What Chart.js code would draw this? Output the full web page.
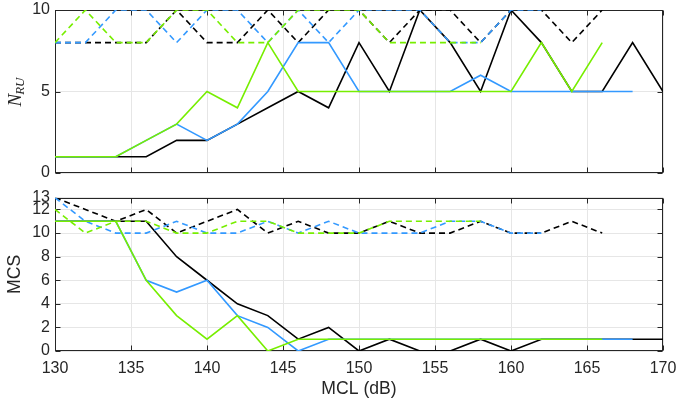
<!DOCTYPE html>
<html>
<head>
<meta charset="utf-8">
<script src="https://cdn.jsdelivr.net/npm/chart.js@4.4.0/dist/chart.umd.min.js"></script>
<style>
  html, body { margin: 0; padding: 0; background: #fff; }
  #wrap { position: relative; width: 678px; height: 401px; }
  #nru { position: absolute; left: 0; top: 0; }
  #mcs { position: absolute; left: 0; top: 185px; }
</style>
</head>
<body>
<div id="wrap">
  <canvas id="nru" width="678" height="185"></canvas>
  <canvas id="mcs" width="678" height="216"></canvas>
</div>
<script>
// MCL sweep (dB), one sample every 2 dB
const mcl = [130, 132, 134, 136, 138, 140, 142, 144, 146, 148, 150,
             152, 154, 156, 158, 160, 162, 164, 166, 168, 170];

// number of RUs
const nruBlack     = [1, 1, 1, 1, 2, 2, 3, 4, 5, 4, 8, 5, 10, 8, 5, 10, 8, 5, 5, 8, 5];
const nruBlue      = [1, 1, 1, 2, 3, 2, 3, 5, 8, 8, 5, 5, 5, 5, 6, 5, 5, 5, 5, 5];
const nruGreen     = [1, 1, 1, 2, 3, 5, 4, 8, 5, 5, 5, 5, 5, 5, 5, 5, 8, 5, 8];
const nruBlackDash = [8, 8, 8, 8, 10, 8, 8, 10, 8, 10, 10, 8, 10, 10, 8, 10, 10, 8, 10];
const nruBlueDash  = [8, 8, 10, 10, 8, 10, 10, 8, 10, 8, 10, 10, 10, 8, 8, 10, 10];
const nruGreenDash = [8, 10, 8, 8, 10, 10, 8, 8, 10, 10, 10, 8, 8, 8, 8];

// MCS index
const mcsBlack     = [11, 11, 11, 11, 8, 6, 4, 3, 1, 2, 0, 1, 0, 0, 1, 0, 1, 1, 1, 1, 1];
const mcsBlue      = [11, 11, 11, 6, 5, 6, 3, 2, 0, 1, 1, 1, 1, 1, 1, 1, 1, 1, 1, 1];
const mcsGreen     = [11, 11, 11, 6, 3, 1, 3, 0, 1, 1, 1, 1, 1, 1, 1, 1, 1, 1, 1];
const mcsBlackDash = [13, 12, 11, 12, 10, 11, 12, 10, 11, 10, 10, 11, 10, 10, 11, 10, 10, 11, 10];
const mcsBlueDash  = [13, 11, 10, 10, 11, 10, 10, 11, 10, 11, 10, 10, 10, 11, 11, 10, 10];
const mcsGreenDash = [12, 10, 11, 11, 10, 10, 11, 11, 10, 10, 10, 11, 11, 11, 11];

// tick labels
const xTicks = [130, 135, 140, 145, 150, 155, 160, 165, 170];
const nruTicks = [0, 5, 10];
const mcsTicks = [0, 2, 4, 6, 8, 10, 12, 13];

const BLACK = '#000000';
const BLUE = '#3399ff';
const GREEN = '#77ee00';
const AXIS = '#262626';
const GRID = '#e6e6e6';
const FONT = 'Liberation Sans, Arial, sans-serif';

function series(vals, color, dashed, order) {
  return {
    data: vals.map((v, i) => ({ x: mcl[i], y: v })),
    borderColor: color,
    backgroundColor: color,
    borderWidth: 1.6,
    borderDash: dashed ? [6, 4] : [],
    pointRadius: 0,
    tension: 0,
    fill: false,
    order: order
  };
}

// no extra room around the plot for half-height tick labels
function noPad(s) {
  s.paddingTop = 0;
  s.paddingBottom = 0;
  s.paddingLeft = 0;
  s.paddingRight = 0;
}

function xScale(withLabels) {
  return {
    type: 'linear',
    min: 130,
    max: 170,
    afterBuildTicks: s => { s.ticks = xTicks.map(v => ({ value: v })); },
    afterFit: s => { s.height = withLabels ? 50 : 12; noPad(s); },
    grid: { color: GRID, drawTicks: false },
    border: { display: false },
    ticks: {
      display: withLabels,
      padding: 8,
      color: AXIS,
      autoSkip: false,
      maxRotation: 0,
      font: { family: FONT, size: 16 }
    },
    title: {
      display: withLabels,
      text: 'MCL (dB)',
      color: AXIS,
      font: { family: FONT, size: 17.6 },
      padding: { top: 0, bottom: 1 }
    }
  };
}

function yScale(max, ticks, titleText) {
  return {
    min: 0,
    max: max,
    afterBuildTicks: s => { s.ticks = ticks.map(v => ({ value: v })); },
    afterFit: s => { s.width = 55; noPad(s); },
    grid: { color: GRID, drawTicks: false },
    border: { display: false },
    ticks: {
      padding: 5,
      color: AXIS,
      autoSkip: false,
      font: { family: FONT, size: 16 }
    },
    title: {
      display: !!titleText,
      text: titleText || '',
      color: AXIS,
      font: { family: FONT, size: 17.6 },
      padding: { top: 5, bottom: 0 }
    }
  };
}

// axes box with inward tick marks on all four sides
const boxPlugin = {
  id: 'box',
  beforeDatasetsDraw(chart) {
    const { ctx, chartArea: a, scales } = chart;
    const L = Math.round(a.left) + 0.5, R = Math.round(a.right) - 0.5;
    const T = Math.round(a.top) + 0.5, B = Math.round(a.bottom) - 0.5;
    ctx.save();
    ctx.strokeStyle = AXIS;
    ctx.lineWidth = 1;
    ctx.beginPath();
    scales.x.ticks.forEach(t => {
      const px = Math.round(scales.x.getPixelForValue(t.value)) + 0.5;
      ctx.moveTo(px, B); ctx.lineTo(px, B - 5);
      ctx.moveTo(px, T); ctx.lineTo(px, T + 5);
    });
    scales.y.ticks.forEach(t => {
      const py = Math.round(scales.y.getPixelForValue(t.value)) + 0.5;
      ctx.moveTo(L, py); ctx.lineTo(L + 5, py);
      ctx.moveTo(R, py); ctx.lineTo(R - 5, py);
    });
    ctx.stroke();
    ctx.strokeRect(L, T, R - L, B - T);
    ctx.restore();
  }
};

// N_RU label, italic with subscript
const nruLabel = {
  id: 'nruLabel',
  afterDraw(chart) {
    const { ctx, chartArea: a } = chart;
    const cy = (a.top + a.bottom) / 2;
    ctx.save();
    ctx.translate(21, cy);
    ctx.rotate(-Math.PI / 2);
    ctx.fillStyle = AXIS;
    ctx.textBaseline = 'alphabetic';
    const big = 'italic 19px "Liberation Serif", serif';
    const small = 'italic 13px "Liberation Serif", serif';
    ctx.font = big;
    const wN = ctx.measureText('N').width;
    ctx.font = small;
    const wS = ctx.measureText('RU').width;
    const x0 = -(wN + wS) / 2;
    ctx.font = big;
    ctx.fillText('N', x0, 0);
    ctx.font = small;
    ctx.fillText('RU', x0 + wN - 1, 3);
    ctx.restore();
  }
};

const common = {
  responsive: false,
  animation: false,
  plugins: { legend: { display: false }, tooltip: { enabled: false } }
};

new Chart(document.getElementById('nru'), {
  type: 'line',
  data: {
    datasets: [
      series(nruBlack, BLACK, false, 6),
      series(nruBlackDash, BLACK, true, 5),
      series(nruBlue, BLUE, false, 4),
      series(nruBlueDash, BLUE, true, 3),
      series(nruGreen, GREEN, false, 2),
      series(nruGreenDash, GREEN, true, 1)
    ]
  },
  options: Object.assign({}, common, {
    layout: { padding: { top: 10, right: 15, bottom: 0, left: 0 } },
    scales: { x: xScale(false), y: yScale(10, nruTicks, null) }
  }),
  plugins: [boxPlugin, nruLabel]
});

new Chart(document.getElementById('mcs'), {
  type: 'line',
  data: {
    datasets: [
      series(mcsBlack, BLACK, false, 6),
      series(mcsBlackDash, BLACK, true, 5),
      series(mcsBlue, BLUE, false, 4),
      series(mcsBlueDash, BLUE, true, 3),
      series(mcsGreen, GREEN, false, 2),
      series(mcsGreenDash, GREEN, true, 1)
    ]
  },
  options: Object.assign({}, common, {
    layout: { padding: { top: 12.7, right: 15, bottom: 0, left: 0 } },
    scales: { x: xScale(true), y: yScale(13, mcsTicks, 'MCS') }
  }),
  plugins: [boxPlugin]
});
</script>
</body>
</html>
